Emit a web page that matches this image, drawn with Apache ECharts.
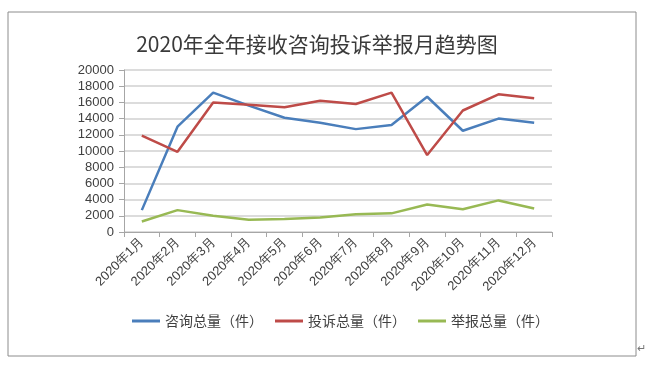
<!DOCTYPE html>
<html>
<head>
<meta charset="utf-8">
<script src="https://cdn.jsdelivr.net/npm/echarts@6/dist/echarts.min.js"></script>
<style>
html,body{margin:0;padding:0;background:#fff;}
#main{width:650px;height:374px;}
</style>
</head>
<body>
<div id="main"></div>
<script>
const titleText = '2020年全年接收咨询投诉举报月趋势图';
const categories = ['2020年1月','2020年2月','2020年3月','2020年4月','2020年5月','2020年6月','2020年7月','2020年8月','2020年9月','2020年10月','2020年11月','2020年12月'];
const seriesNames = ['咨询总量（件）','投诉总量（件）','举报总量（件）'];
const consult = [2700, 13000, 17200, 15600, 14100, 13500, 12700, 13200, 16700, 12500, 14000, 13500];
const complaint = [11900, 9900, 16000, 15700, 15400, 16200, 15800, 17200, 9500, 15000, 17000, 16500];
const report = [1300, 2700, 2000, 1500, 1600, 1800, 2200, 2300, 3400, 2800, 3900, 2900];
const colors = ['#4a7ebb', '#be4b48', '#98b954'];

const chart = echarts.init(document.getElementById('main'));
const mk = (name, data, color) => ({
  name, type: 'line', data, symbol: 'none', smooth: false,
  lineStyle: { color, width: 2.5 }, itemStyle: { color }
});
chart.setOption({
  animation: false,
  backgroundColor: '#fff',
  title: {
    text: titleText, left: 312, top: 29, textAlign: 'center',
    textStyle: { fontFamily: 'Noto Sans CJK SC', fontSize: 21, fontWeight: 'normal', color: '#3a3a3a' }
  },
  graphic: [
    { type: 'rect', shape: { x: 8, y: 12, width: 628, height: 344 }, style: { fill: 'none', stroke: '#8c8c8c', lineWidth: 1 }, silent: true },
    { type: 'text', left: 637, top: 343, style: { text: '↵', fontSize: 11, fill: '#777' }, silent: true }
  ],
  legend: {
    left: 127, top: 309, icon: 'rect', itemWidth: 28, itemHeight: 3, itemGap: 12,
    data: seriesNames,
    textStyle: { fontFamily: 'Noto Sans CJK SC', fontSize: 14, color: '#404040' }
  },
  grid: { left: 124, right: 98, top: 70, bottom: 142, containLabel: false },
  xAxis: {
    type: 'category', data: categories, boundaryGap: true,
    axisLine: { lineStyle: { color: '#a6a6a6', width: 1 } },
    axisTick: { show: true, length: 5, lineStyle: { color: '#a6a6a6' }, alignWithLabel: false },
    axisLabel: { rotate: 45, interval: 0, fontFamily: 'Liberation Sans', fontSize: 13, color: '#404040', margin: 8 }
  },
  yAxis: {
    type: 'value', min: 0, max: 20000, interval: 2000,
    axisLine: { show: true, lineStyle: { color: '#a6a6a6', width: 1 } },
    axisTick: { show: true, length: 5, lineStyle: { color: '#a6a6a6' } },
    axisLabel: { fontFamily: 'Liberation Sans', fontSize: 13, color: '#404040', margin: 10, formatter: v => String(v) },
    splitLine: { lineStyle: { color: '#d0d0d0', width: 1.5 } }
  },
  series: [
    mk(seriesNames[0], consult, colors[0]),
    mk(seriesNames[1], complaint, colors[1]),
    mk(seriesNames[2], report, colors[2])
  ]
});
</script>
</body>
</html>
